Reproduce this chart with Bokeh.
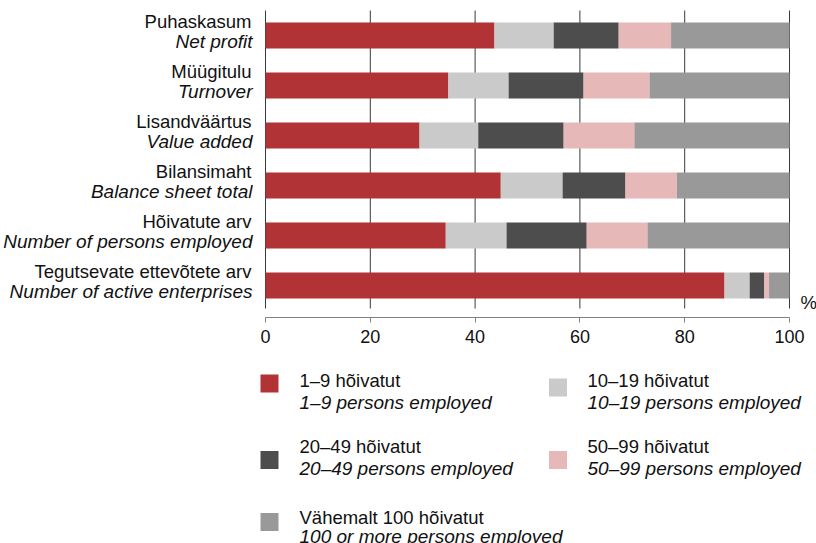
from bokeh.plotting import figure
from bokeh.models import Range1d, FixedTicker, ColumnDataSource
from bokeh.embed import file_html
from bokeh.resources import INLINE
from bokeh.core.properties import value

# ---------------- data ----------------
categories_et = ["Puhaskasum", "Müügitulu", "Lisandväärtus", "Bilansimaht",
                 "Hõivatute arv", "Tegutsevate ettevõtete arv"]
categories_en = ["Net profit", "Turnover", "Value added", "Balance sheet total",
                 "Number of persons employed", "Number of active enterprises"]

s_1_9 = [43.7, 34.9, 29.4, 44.9, 34.4, 87.6]
s_10_19 = [11.3, 11.5, 11.2, 11.8, 11.6, 4.8]
s_20_49 = [12.4, 14.3, 16.3, 12.0, 15.3, 2.8]
s_50_99 = [10.0, 12.6, 13.5, 9.8, 11.6, 0.9]
s_100 = [22.6, 26.7, 29.6, 21.5, 27.1, 3.9]

series_et = ["1–9 hõivatut", "10–19 hõivatut", "20–49 hõivatut",
             "50–99 hõivatut", "Vähemalt 100 hõivatut"]
series_en = ["1–9 persons employed", "10–19 persons employed", "20–49 persons employed",
             "50–99 persons employed", "100 or more persons employed"]
x_ticks = [0, 20, 40, 60, 80, 100]
unit_label = "%"

# ---------------- styles / layout ----------------
colors = ["#B23335", "#CACACA", "#4D4D4D", "#E6B8B8", "#999999"]
FONT = "Liberation Sans"
FS = "18.5px"
FS_IT = "19px"
TXT = "#111111"

W, H = 816, 543
X0_PX, PX_PER_PCT = 265, 5.24   # x=0 position in px, px per percent
Y0_PX, PX_PER_ROW = 35, 50      # first row centre in px, px per row


def fx(px):  # px -> data x
    return (px - X0_PX) / PX_PER_PCT


def fy(px):  # px -> data y
    return (px - Y0_PX) / PX_PER_ROW


n = len(categories_et)
keys = ["s0", "s1", "s2", "s3", "s4"]
src = ColumnDataSource(dict(y=list(range(n)), s0=s_1_9, s1=s_10_19, s2=s_20_49,
                            s3=s_50_99, s4=s_100))

p = figure(width=W, height=H, x_range=Range1d(fx(0), fx(W)), y_range=Range1d(fy(H), fy(0)),
           output_backend="svg", toolbar_location=None, y_axis_location=None,
           min_border_left=0, min_border_right=0, min_border_top=0, min_border_bottom=0)
p.outline_line_color = None
p.xgrid.visible = False
p.ygrid.visible = False

ax = p.xaxis[0]
ax.fixed_location = fy(317)
ax.bounds = (x_ticks[0], x_ticks[-1])
ax.ticker = FixedTicker(ticks=x_ticks)
ax.axis_line_color = "#808080"
ax.major_tick_line_color = "#808080"
ax.major_tick_out = 5
ax.major_tick_in = 0
ax.minor_tick_out = 0
ax.minor_tick_in = 0
ax.major_label_text_font = FONT
ax.major_label_text_font_size = "18px"
ax.major_label_text_color = TXT
ax.major_label_standoff = 7

# vertical gridlines (stop short of the axis)
p.segment(x0=x_ticks, y0=[fy(10)] * len(x_ticks), x1=x_ticks,
          y1=[fy(308)] * len(x_ticks), line_color="#3a3a3a", line_width=1)

p.hbar_stack(keys, y="y", height=0.52, color=colors, line_width=0, source=src)

# category labels (two lines)
ys = list(range(n))
p.text(x=[fx(251)] * n, y=[v - 0.29 for v in ys], text=categories_et,
       text_font=value(FONT), text_font_size=FS, text_color=TXT,
       text_align="right", text_baseline="middle")
p.text(x=[fx(252)] * n, y=[v + 0.11 for v in ys], text=categories_en,
       text_font=value(FONT), text_font_size=FS_IT, text_color=TXT, text_font_style="italic",
       text_align="right", text_baseline="middle")

p.text(x=[fx(800)], y=[fy(302)], text=[unit_label], text_font=value(FONT),
       text_font_size=FS, text_color=TXT, text_align="left", text_baseline="middle")

# legend
col_sq = [269, 557.5]
col_tx = [299, 587]
row_sq = [383, 459.5, 521.5]
row_l1 = [380, 446, 517]
row_l2 = [402, 468, 536]

sq_x, sq_y, t_x, t1_y, t2_y = [], [], [], [], []
for k in range(len(series_et)):
    r, c = divmod(k, 2)
    sq_x.append(fx(col_sq[c]))
    sq_y.append(fy(row_sq[r] + (4 if (r == 0 and c == 1) else 0)))
    t_x.append(fx(col_tx[c]))
    t1_y.append(fy(row_l1[r]))
    t2_y.append(fy(row_l2[r]))

p.rect(x=sq_x, y=sq_y, width=18, height=18, width_units="screen", height_units="screen",
       fill_color=colors, line_color=None)
p.text(x=t_x, y=t1_y, text=series_et, text_font=value(FONT), text_font_size=FS,
       text_baseline="middle", text_align="left", text_color=TXT)
p.text(x=t_x, y=t2_y, text=series_en, text_font=value(FONT), text_font_size=FS_IT,
       text_font_style="italic", text_baseline="middle", text_align="left", text_color=TXT)

open("out.html", "w").write(file_html(p, INLINE))
